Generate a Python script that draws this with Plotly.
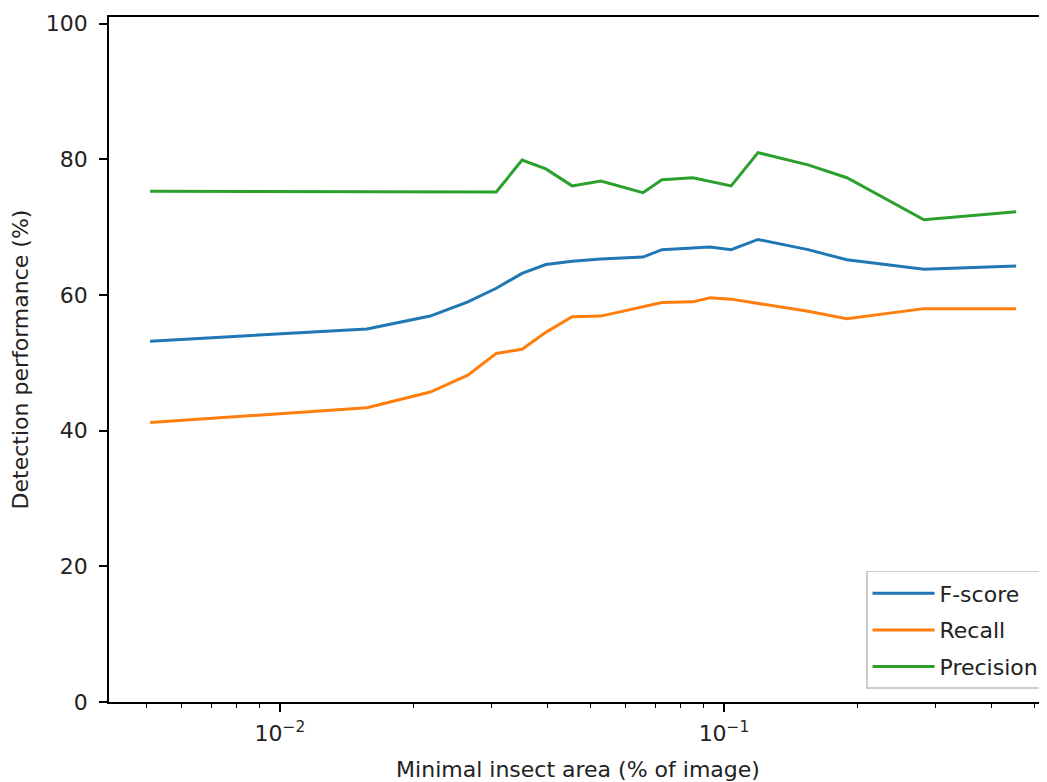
import plotly.graph_objects as go

# Minimal insect area (% of image)
area = [0.0051, 0.0157, 0.0218, 0.0265, 0.0307, 0.0351, 0.0397, 0.0455, 0.0528,
        0.0657, 0.0725, 0.0851, 0.0930, 0.1038, 0.1193, 0.1546, 0.1892, 0.2821, 0.4550]

fscore = [53.2, 55.0, 56.9, 59.0, 61.0, 63.2, 64.5, 65.0, 65.3,
          65.6, 66.7, 66.9, 67.1, 66.7, 68.2, 66.7, 65.2, 63.8, 64.3]
recall = [41.2, 43.4, 45.7, 48.2, 51.4, 52.0, 54.5, 56.8, 56.9,
          58.3, 58.9, 59.0, 59.6, 59.4, 58.8, 57.6, 56.5, 58.0, 58.0]
precision = [75.3, 75.3, 75.3, 75.3, 75.2, 79.9, 78.6, 76.1, 76.8,
             75.1, 77.0, 77.3, 76.8, 76.1, 81.0, 79.2, 77.3, 71.1, 72.3]

series_names = ["F-score", "Recall", "Precision"]
series_colors = ["#1f77b4", "#ff7f0e", "#2ca02c"]

y_ticks = [0, 20, 40, 60, 80, 100]
x_major = [0.01, 0.1]
x_major_text = ["10<sup>\u22122</sup>", "10<sup>\u22121</sup>"]
x_minor = [0.005, 0.006, 0.007, 0.008, 0.009,
           0.02, 0.03, 0.04, 0.05, 0.06, 0.07, 0.08, 0.09,
           0.2, 0.3, 0.4, 0.5]

fig = go.Figure()
for name, vals, col in zip(series_names, [fscore, recall, precision], series_colors):
    fig.add_trace(go.Scatter(x=area, y=vals, mode="lines", name=name, legendgroup=name,
                             line=dict(color=col, width=3)))

FONT = "DejaVu Sans"
FS = 22
font = dict(family=FONT, size=FS, color="#222")

fig.update_layout(
    width=1039, height=774,
    margin=dict(l=101, r=0, t=9, b=80),
    paper_bgcolor="white", plot_bgcolor="white",
    font=font,
    showlegend=True,
    legend=dict(x=0.9979, xanchor="right", y=0.019, yanchor="bottom",
                bgcolor="rgba(255,255,255,0.8)", bordercolor="#cccccc", borderwidth=1.5,
                font=dict(family=FONT, size=FS, color="#222"),
                tracegroupgap=5, itemwidth=62),
    xaxis=dict(type="log", range=[-2.385, -0.2725],
               tickmode="array", tickvals=x_major, ticktext=x_major_text,
               ticks="outside", ticklen=8, tickwidth=1.6, tickcolor="black",
               ticklabelstandoff=3,
               showline=True, linecolor="black", linewidth=1.6, mirror=True,
               showgrid=False, zeroline=False,
               minor=dict(tickmode="array", tickvals=x_minor, ticks="outside",
                          ticklen=4.5, tickwidth=1.2, tickcolor="black", showgrid=False),
               title=dict(text="Minimal insect area (% of image)", standoff=20,
                          font=dict(family=FONT, size=FS, color="#222"))),
    yaxis=dict(range=[0, 101], tickmode="array", tickvals=y_ticks,
               ticks="outside", ticklen=8, tickwidth=1.6, tickcolor="black",
               ticklabelstandoff=7,
               showline=True, linecolor="black", linewidth=1.6, mirror=False,
               showgrid=False, zeroline=False,
               title=dict(text="Detection performance (%)", standoff=16,
                          font=dict(family=FONT, size=FS, color="#222"))),
)

fig.write_html("out.html")
